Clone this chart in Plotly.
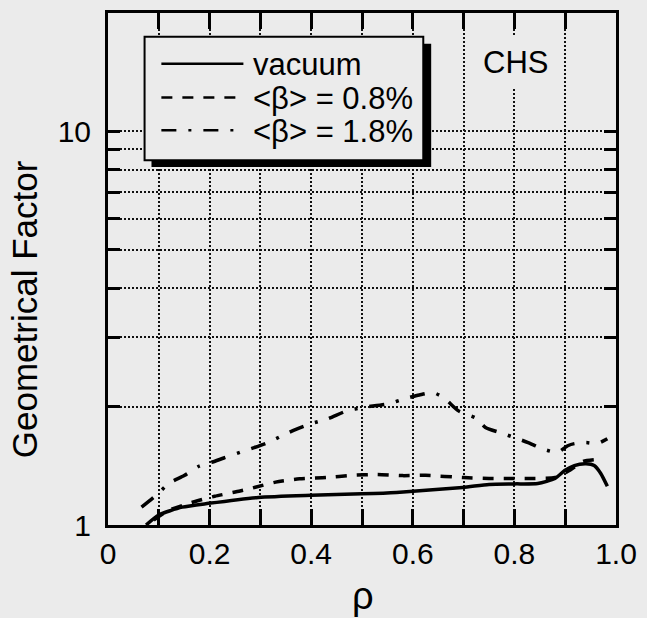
import plotly.graph_objects as go

# ---- data ----
rho_vac = [0.075, 0.10, 0.146, 0.198, 0.296, 0.40, 0.50, 0.568, 0.698, 0.75, 0.80, 0.846, 0.88, 0.899, 0.918, 0.941, 0.957, 0.97, 0.983]
gf_vac = [1.0, 1.06, 1.11, 1.135, 1.175, 1.19, 1.20, 1.21, 1.246, 1.268, 1.272, 1.275, 1.313, 1.375, 1.416, 1.43, 1.416, 1.352, 1.254]

rho_08 = [0.09, 0.12, 0.17, 0.21, 0.26, 0.29, 0.33, 0.377, 0.43, 0.48, 0.53, 0.58, 0.625, 0.70, 0.75, 0.80, 0.84, 0.88, 0.91, 0.935, 0.96]
gf_08 = [1.03, 1.09, 1.146, 1.183, 1.22, 1.247, 1.285, 1.31, 1.32, 1.337, 1.344, 1.335, 1.337, 1.32, 1.313, 1.313, 1.313, 1.32, 1.38, 1.45, 1.466]

rho_18 = [0.066, 0.098, 0.12, 0.15, 0.179, 0.202, 0.228, 0.26, 0.286, 0.315, 0.344, 0.37, 0.40, 0.432, 0.47, 0.503, 0.55, 0.588, 0.613, 0.64, 0.662, 0.69, 0.724, 0.743, 0.776, 0.807, 0.827, 0.856, 0.885, 0.905, 0.918, 0.941, 0.963, 0.983]
gf_18 = [1.11, 1.20, 1.276, 1.336, 1.41, 1.44, 1.48, 1.53, 1.57, 1.62, 1.69, 1.75, 1.81, 1.86, 1.95, 1.99, 2.03, 2.10, 2.14, 2.17, 2.10, 1.95, 1.87, 1.77, 1.71, 1.656, 1.62, 1.56, 1.53, 1.59, 1.61, 1.62, 1.61, 1.656]

series_names = ["vacuum", "<β> = 0.8%", "<β> = 1.8%"]
x_tickvals = [0, 0.2, 0.4, 0.6, 0.8, 1.0]
x_ticktext = ["0", "0.2", "0.4", "0.6", "0.8", "1.0"]
y_tickvals = [1, 10]
y_ticktext = ["1", "10"]

BG = "#ebebeb"
FONT = "Liberation Sans, Arial, Helvetica, sans-serif"
W, H = 647, 618
L, R, T, B = 108, 622, 10, 525


def px(xp):
    return (xp - L) / (R - L)


def py(yp):
    return (B - yp) / (B - T)


dashes = ["solid", "11px,10px", "15px,12px,3px,12px"]
xs = [rho_vac, rho_08, rho_18]
ys = [gf_vac, gf_08, gf_18]

fig = go.Figure()
for name, x, y, d in zip(series_names, xs, ys, dashes):
    fig.add_trace(go.Scatter(x=x, y=y, mode="lines", name=name,
                             line=dict(color="black", width=3.5, dash=d, shape="spline", smoothing=0.6),
                             showlegend=False))

shapes = []
# legend shadow and box
shapes.append(dict(type="rect", xref="paper", yref="paper", layer="above",
                   x0=px(152), x1=px(435), y0=py(41), y1=py(165),
                   fillcolor="black", line=dict(width=0)))
shapes.append(dict(type="rect", xref="paper", yref="paper", layer="above",
                   x0=px(145), x1=px(427), y0=py(34), y1=py(158),
                   fillcolor=BG, line=dict(color="black", width=2)))
legend_y = [61, 95, 128]
annotations = []
for name, d, yy in zip(series_names, dashes, legend_y):
    shapes.append(dict(type="line", xref="paper", yref="paper", layer="above",
                       x0=px(162), x1=px(245), y0=py(yy), y1=py(yy),
                       line=dict(color="black", width=2.5, dash=d)))
    annotations.append(dict(xref="paper", yref="paper", x=px(253), y=py(yy + 1),
                            xanchor="left", yanchor="middle", showarrow=False,
                            text=name.replace("<", "&lt;").replace(">", "&gt;"),
                            font=dict(family=FONT, size=31, color="black")))

annotations.append(dict(xref="paper", yref="paper", x=px(520), y=py(60),
                        xanchor="center", yanchor="middle", showarrow=False,
                        text="CHS", bgcolor=BG, borderpad=8,
                        font=dict(family=FONT, size=31, color="black")))
annotations.append(dict(xref="paper", yref="paper", x=px(23), y=py(308),
                        xanchor="center", yanchor="middle", showarrow=False,
                        text="Geometrical Factor", textangle=-90,
                        font=dict(family=FONT, size=35, color="black")))
annotations.append(dict(xref="paper", yref="paper", x=px(366), y=py(596),
                        xanchor="center", yanchor="middle", showarrow=False,
                        text="ρ",
                        font=dict(family=FONT, size=38, color="black")))

grid_common = dict(gridcolor="#111", gridwidth=1.5, griddash="2px,2px")

fig.update_layout(
    width=W, height=H,
    margin=dict(l=L, r=W - R, t=T, b=H - B, pad=0),
    paper_bgcolor=BG, plot_bgcolor=BG,
    shapes=shapes, annotations=annotations,
    font=dict(family=FONT, color="black"),
    xaxis=dict(range=[0, 1], tickmode="array", tickvals=x_tickvals, ticktext=x_ticktext,
               ticks="inside", ticklen=16, tickwidth=3, tickcolor="black",
               showline=True, linewidth=3, linecolor="black", mirror="allticks",
               showgrid=True, **grid_common, zeroline=False,
               tickfont=dict(family=FONT, size=30, color="black"),
               minor=dict(dtick=0.1, ticks="inside", ticklen=16, tickwidth=3, tickcolor="black",
                          showgrid=True, **grid_common)),
    yaxis=dict(type="log", range=[0, 1.301], tickmode="array", tickvals=y_tickvals, ticktext=y_ticktext,
               ticks="inside", ticklen=12, tickwidth=3, tickcolor="black",
               showline=True, linewidth=3, linecolor="black", mirror="allticks",
               showgrid=True, **grid_common, zeroline=False,
               tickfont=dict(family=FONT, size=30, color="black"), ticklabelstandoff=8,
               minor=dict(tickvals=[2, 3, 4, 5, 6, 7, 8, 9], ticks="inside", ticklen=12, tickwidth=3,
                          tickcolor="black", showgrid=True, **grid_common)),
)

fig.write_html("out.html")
